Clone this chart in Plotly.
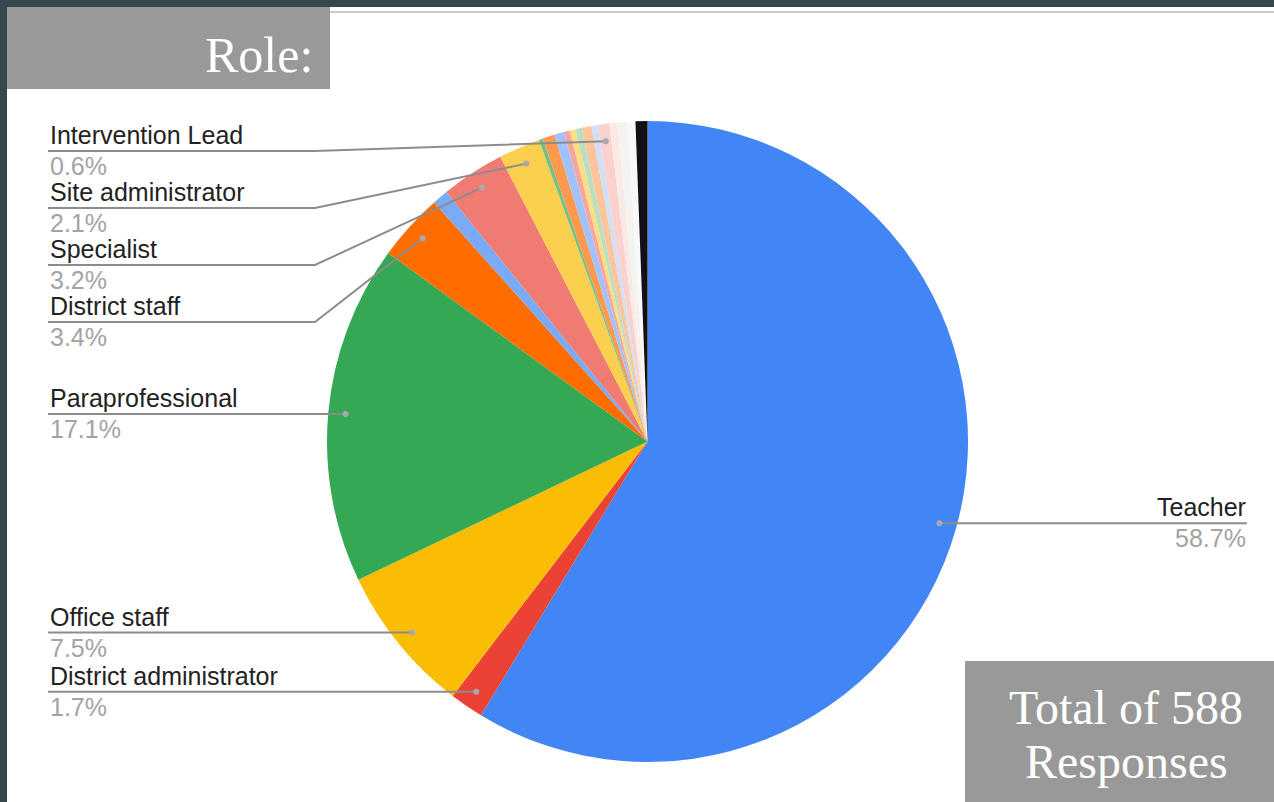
import math
import plotly.graph_objects as go

# ---- survey data: respondent role (share of 588 responses, %) ----
roles = [
    "Teacher", "District administrator", "Office staff", "Paraprofessional",
    "District staff", "Other 1", "Specialist", "Site administrator",
    "Other 2", "Other 3", "Other 4", "Other 5", "Other 6", "Other 7",
    "Other 8", "Other 9", "Intervention Lead", "Other 10", "Other 11",
    "Other 12", "Other 13",
]
shares = [
    58.7, 1.7, 7.5, 17.1,
    3.4, 0.8, 3.2, 2.1,
    0.2, 0.6, 0.5, 0.3, 0.3, 0.3,
    0.5, 0.3, 0.6, 0.4, 0.5,
    0.4, 0.6,
]
colors = [
    "#4285f4", "#ea4335", "#fbbc04", "#34a853",
    "#ff6d01", "#7baaf7", "#f07b72", "#fcd04f",
    "#71c287", "#ff994d", "#a0c3ff", "#f5a69f", "#fdde82", "#b7dfc1",
    "#ffc49c", "#cfe0fb", "#f9d2cd", "#fbe9e6", "#f3f3ef",
    "#f8f8f8", "#111111",
]
total_responses = 588

# ---- canvas geometry (pixels) ----
W, H = 1274, 802
CX, CY, R = 647.5, 441.5, 320.5
DOT_R = 0.946 * R
LEFT_X, RIGHT_X, ELBOW_X = 48, 1247, 315

# which slices carry a callout, on which side, and the y of the label rule
callouts = {
    "Intervention Lead": ("left", 151),
    "Site administrator": ("left", 208),
    "Specialist": ("left", 265),
    "District staff": ("left", 322),
    "Paraprofessional": ("left", None),
    "Office staff": ("left", None),
    "District administrator": ("left", None),
    "Teacher": ("right", None),
}

SANS = "Liberation Sans, Arial, sans-serif"
SERIF = "Liberation Serif, Times New Roman, serif"
LINE_COL = "#8c8c8c"


def px(x):
    return x / W


def py(y):
    return 1 - y / H


fig = go.Figure()
fig.add_trace(go.Pie(
    labels=roles,
    values=shares,
    sort=False,
    direction="clockwise",
    rotation=0,
    marker=dict(colors=colors, line=dict(width=0)),
    textinfo="none",
    textposition="none",
    showlegend=False,
    domain=dict(x=[px(CX - R), px(CX + R)], y=[py(CY + R), py(CY - R)]),
))

shapes = [
    # white panel over the slate frame
    dict(type="rect", xref="paper", yref="paper", layer="below",
         x0=px(7), x1=1, y0=0, y1=py(7), fillcolor="white", line=dict(width=0)),
    dict(type="line", xref="paper", yref="paper", layer="below",
         x0=px(330), x1=1, y0=py(12), y1=py(12), line=dict(color="#c9c9c9", width=2)),
    # heading box and total box
    dict(type="rect", xref="paper", yref="paper",
         x0=px(7), x1=px(330), y0=py(89), y1=py(7), fillcolor="#999999", line=dict(width=0)),
    dict(type="rect", xref="paper", yref="paper",
         x0=px(965), x1=1, y0=0, y1=py(661), fillcolor="#999999", line=dict(width=0)),
]
annotations = []

total = sum(shares)
cum = 0.0
for role, val in zip(roles, shares):
    start = cum
    cum += val
    if role not in callouts:
        continue
    mid = math.radians(360 * (start + val / 2) / total)
    dx = CX + DOT_R * math.sin(mid)
    dy = CY - DOT_R * math.cos(mid)
    side, rule_y = callouts[role]
    if rule_y is None:
        rule_y = dy
    if side == "left":
        if abs(rule_y - dy) < 1:
            path = f"M {px(LEFT_X)},{py(rule_y)} L {px(dx)},{py(dy)}"
        else:
            path = (f"M {px(LEFT_X)},{py(rule_y)} L {px(ELBOW_X)},{py(rule_y)} "
                    f"L {px(dx)},{py(dy)}")
        tx, anchor = LEFT_X, "left"
    else:
        path = f"M {px(dx)},{py(dy)} L {px(RIGHT_X)},{py(rule_y)}"
        tx, anchor = RIGHT_X + 1, "right"
    shapes.append(dict(type="path", xref="paper", yref="paper", path=path,
                       line=dict(color=LINE_COL, width=2)))
    shapes.append(dict(type="circle", xref="paper", yref="paper",
                       x0=px(dx - 3), x1=px(dx + 3), y0=py(dy + 3), y1=py(dy - 3),
                       fillcolor="#a9a9a9", line=dict(width=0)))
    annotations.append(dict(xref="paper", yref="paper", x=px(tx), y=py(rule_y - 16),
                            xanchor=anchor, yanchor="middle", showarrow=False,
                            text=role, font=dict(family=SANS, size=25, color="#222222")))
    annotations.append(dict(xref="paper", yref="paper", x=px(tx), y=py(rule_y + 15),
                            xanchor=anchor, yanchor="middle", showarrow=False,
                            text=f"{val:.1f}%", font=dict(family=SANS, size=25, color="#a3a3a3")))

annotations += [
    dict(xref="paper", yref="paper", x=px(315), y=py(55), xanchor="right", yanchor="middle",
         showarrow=False, text="Role:", font=dict(family=SERIF, size=50, color="white")),
    dict(xref="paper", yref="paper", x=px(1126), y=py(707), xanchor="center", yanchor="middle",
         showarrow=False, text=f"Total of {total_responses}",
         font=dict(family=SERIF, size=48, color="white")),
    dict(xref="paper", yref="paper", x=px(1126), y=py(761), xanchor="center", yanchor="middle",
         showarrow=False, text="Responses", font=dict(family=SERIF, size=48, color="white")),
]

fig.update_layout(
    width=W, height=H,
    margin=dict(l=0, r=0, t=0, b=0),
    paper_bgcolor="#37474f",
    plot_bgcolor="white",
    shapes=shapes,
    annotations=annotations,
    showlegend=False,
)

fig.write_html("out.html")
